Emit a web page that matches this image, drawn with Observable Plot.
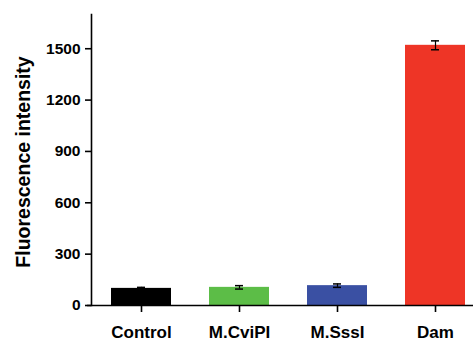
<!DOCTYPE html>
<html>
<head>
<meta charset="utf-8">
<script src="https://cdn.jsdelivr.net/npm/d3@7"></script>
<script src="https://cdn.jsdelivr.net/npm/@observablehq/plot@0.6"></script>
<style>
  html, body { margin: 0; padding: 0; background: #fff; }
  #chart svg { display: block; font-family: "Liberation Sans", Arial, sans-serif; }
</style>
</head>
<body>
<div id="chart"></div>
<script>
const categories = ["Control", "M.CviPI", "M.SssI", "Dam"];
const values = [100, 106, 116, 1520];
const errors = [6, 10, 10, 26];
const colors = ["#000000", "#5cbd47", "#3a50a3", "#ee3526"];
const yTicks = [0, 300, 600, 900, 1200, 1500];
const yLabel = "Fluorescence intensity";

const data = categories.map((c, i) => ({cat: c, value: values[i], lo: values[i] - errors[i], hi: values[i] + errors[i]}));

const chart = Plot.plot({
  width: 473,
  height: 342,
  marginLeft: 91,
  marginRight: 0,
  marginTop: 14,
  marginBottom: 37,
  x: {type: "band", domain: categories, range: [91, 485], paddingInner: 0.388, paddingOuter: 0.204},
  y: {domain: [0, 1700]},
  color: {domain: categories, range: colors},
  marks: [
    Plot.barY(data, {x: "cat", y: "value", fill: "cat"}),
    Plot.ruleX(data, {x: "cat", y1: "lo", y2: "hi", stroke: "#000", strokeWidth: 1.2}),
    Plot.tickY(data, {x: "cat", y: "lo", insetLeft: 26, insetRight: 26, stroke: "#000", strokeWidth: 1.5}),
    Plot.tickY(data, {x: "cat", y: "hi", insetLeft: 26, insetRight: 26, stroke: "#000", strokeWidth: 1.5}),
    Plot.frame({anchor: "left", stroke: "#000", strokeWidth: 1.6}),
    Plot.ruleY([0], {stroke: "#000", strokeWidth: 1.6, insetLeft: -4}),
    Plot.axisY({ticks: yTicks, tickFormat: d => String(d), tickSize: 6, tickPadding: 5, fontSize: 15.5, fontWeight: "bold", label: null, strokeWidth: 1.6, color: "#000"}),
    Plot.axisX({tickSize: 7, tickPadding: 13, fontSize: 17, fontWeight: "bold", label: null, strokeWidth: 1.6, color: "#000"}),
    Plot.text([yLabel], {frameAnchor: "left", dx: -68, dy: 2, rotate: -90, textAnchor: "middle", fontSize: 19.5, fontWeight: "bold", fill: "#000"})
  ]
});
document.getElementById("chart").appendChild(chart);
</script>
</body>
</html>
